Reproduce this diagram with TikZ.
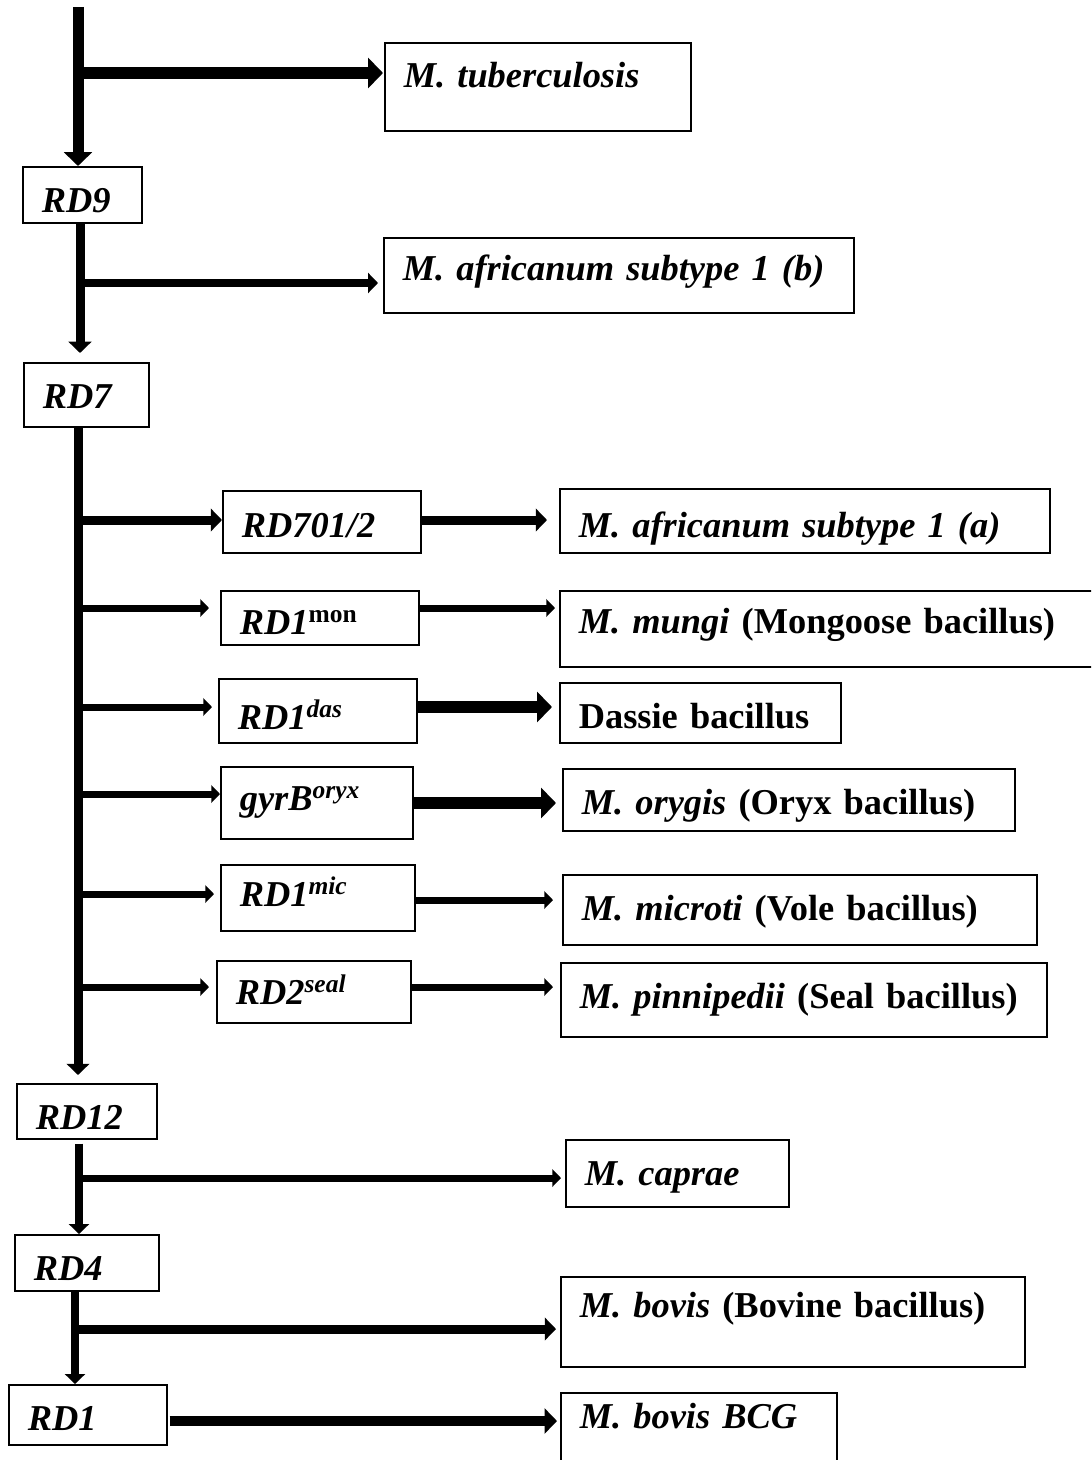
\documentclass[tikz,border=0pt]{standalone}
\usepackage{fontspec}
\setmainfont{Liberation Serif}
\usetikzlibrary{arrows.meta}

\tikzset{
  box/.style n args={3}{draw, line width=0.8pt, anchor=north west,
    inner xsep=9.5pt, inner ysep=0pt, align=left, text width=#1,
    text height=#2, text depth=#3,
    font=\fontsize{18.2}{22}\selectfont\bfseries\itshape},
  spine/.style={line width=#1, -{Triangle[length=0pt 1.25, width=0pt 2.5]}},
  spine/.default=4.5pt,
  branch/.style={line width=#1, -{Triangle[length=0pt 1.25, width=0pt 2.5]}},
  branch/.default=3.5pt
}

\begin{document}
\begin{tikzpicture}[x=0.5pt, y=-0.5pt]
\clip (0,0) rectangle (1091,1460);

% deletion boxes (left) and species boxes (right)
\node[box={134pt}{22.5pt}{21.5pt}] (tb) at (384,42) {M. tuberculosis};
\node[box={40.5pt}{23pt}{5pt}] (rd9) at (22,166) {RD9};
\node[box={216pt}{21.5pt}{16pt}] (afb) at (383,237) {M. africanum subtype 1 (b)};
\node[box={43.5pt}{23pt}{9pt}] (rd7) at (23,362) {RD7};
\node[box={80pt}{23.5pt}{7.5pt}] (rd701) at (222,490) {RD701/2};
\node[box={226pt}{24.5pt}{7.5pt}] (afa) at (559,488) {M. africanum subtype 1 (a)};
\node[box={80pt}{22pt}{5pt}] (rdmon) at (220,590) {RD1\textsuperscript{\upshape mon}};
\node[box={251.5pt}{21.5pt}{16.5pt}] (mungi) at (559,590) {M. mungi \textup{(Mongoose bacillus)}};
\node[box={80pt}{25.5pt}{6.5pt}] (rddas) at (218,678) {RD1\textsuperscript{das}};
\node[box={121.5pt}{23pt}{7pt}] (dassie) at (559,682) {\textup{Dassie bacillus}};
\node[box={77pt}{22pt}{14pt}] (gyrb) at (220,766) {gyrB\textsuperscript{oryx}};
\node[box={207pt}{23pt}{8pt}] (orygis) at (562,768) {M. orygis \textup{(Oryx bacillus)}};
\node[box={78pt}{21pt}{12pt}] (rdmic) at (220,864) {RD1\textsuperscript{mic}};
\node[box={218pt}{23pt}{12pt}] (microti) at (562,874) {M. microti \textup{(Vole bacillus)}};
\node[box={78pt}{22pt}{9pt}] (rdseal) at (216,960) {RD2\textsuperscript{seal}};
\node[box={224pt}{23pt}{14pt}] (pinni) at (560,962) {M. pinnipedii \textup{(Seal bacillus)}};
\node[box={51pt}{23pt}{4.5pt}] (rd12) at (16,1083) {RD12};
\node[box={92.5pt}{23pt}{10.5pt}] (caprae) at (565,1139) {M. caprae};
\node[box={53pt}{23pt}{5pt}] (rd4) at (14,1234) {RD4};
\node[box={213pt}{20.5pt}{24.5pt}] (bovis) at (560,1276) {M. bovis \textup{(Bovine bacillus)}};
\node[box={60pt}{23pt}{7pt}] (rd1) at (8,1384) {RD1};
\node[box={119pt}{18pt}{26pt}] (bcg) at (560,1392) {M. bovis BCG};

% junctions on the main line
\coordinate (root) at (78,7);
\coordinate (j1) at (78,73);
\coordinate (j2) at (80,283);
\coordinate (j3) at (78,520);
\coordinate (j4) at (78,608);
\coordinate (j5) at (80,707);
\coordinate (j6) at (78,794);
\coordinate (j7) at (78,894);
\coordinate (j8) at (83,987);
\coordinate (j9) at (79,1178);
\coordinate (j10) at (75,1329);
\coordinate (k6) at (0,803);
\coordinate (k7) at (0,900);
\coordinate (k11) at (0,1421);

% main line
\draw[spine=5.5pt] (root) -- (root |- rd9.north);
\draw[spine] (j2 |- rd9.south) -- ([yshift=4.5pt]j2 |- rd7.north);
\draw[spine] (j3 |- rd7.south) -- ([yshift=4pt]j3 |- rd12.north);
\draw[spine=4pt] ([yshift=-2pt]j9 |- rd12.south) -- (j9 |- rd4.north);
\draw[spine=4pt] (j10 |- rd4.south) -- (j10 |- rd1.north);

% branches
\draw[branch=6pt] (j1) -- ([xshift=-0.5pt]j1 -| tb.west);
\draw[branch=4pt] (j2) -- ([xshift=-2.5pt]j2 -| afb.west);
\draw[branch=4.5pt] (j3) -- (j3 -| rd701.west);
\draw[branch] (j4) -- ([xshift=-5.5pt]j4 -| rdmon.west);
\draw[branch] (j5) -- ([xshift=-3pt]j5 -| rddas.west);
\draw[branch] (j6) -- (j6 -| gyrb.west);
\draw[branch] (j7) -- ([xshift=-3pt]j7 -| rdmic.west);
\draw[branch] (j8) -- ([xshift=-3.5pt]j8 -| rdseal.west);
\draw[branch=4.5pt] (rd701.east |- j3) -- ([xshift=-6pt]afa.west |- j3);
\draw[branch] (rdmon.east |- j4) -- ([xshift=-2pt]mungi.west |- j4);
\draw[branch=6pt] (rddas.east |- j5) -- ([xshift=-3.5pt]dassie.west |- j5);
\draw[branch=6pt] (gyrb.east |- k6) -- ([xshift=-3pt]orygis.west |- k6);
\draw[branch] (rdmic.east |- k7) -- ([xshift=-4.5pt]microti.west |- k7);
\draw[branch] (rdseal.east |- j8) -- ([xshift=-3.5pt]pinni.west |- j8);
\draw[branch] (j9) -- ([xshift=-2pt]j9 -| caprae.west);
\draw[branch=4.5pt] (j10) -- ([xshift=-2pt]j10 -| bovis.west);
\draw[branch=5pt] ([xshift=1pt]rd1.east |- k11) -- ([xshift=-1.5pt]bcg.west |- k11);
\end{tikzpicture}
\end{document}
